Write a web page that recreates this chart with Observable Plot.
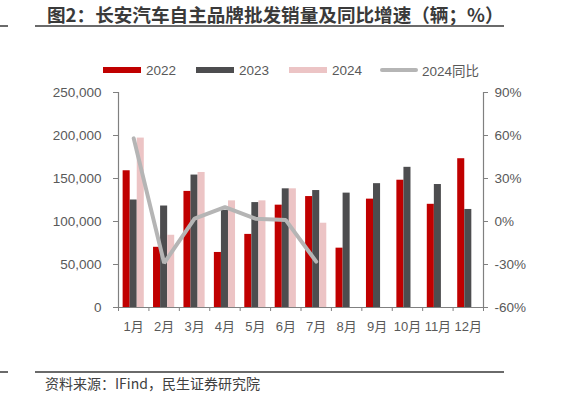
<!DOCTYPE html>
<html><head><meta charset="utf-8">
<script src="https://cdn.jsdelivr.net/npm/d3@7"></script>
<script src="https://cdn.jsdelivr.net/npm/@observablehq/plot@0.6"></script>
<style>
body{margin:0;background:#fff;}
#wrap{position:relative;width:562px;height:399px;overflow:hidden;font-family:"Liberation Sans","Noto Sans CJK SC",sans-serif;}
#title{position:absolute;left:47px;top:4px;font-weight:bold;font-size:18.6px;font-family:"Noto Sans CJK SC",sans-serif;color:#3a3a3a;white-space:nowrap;line-height:20px;}
.hr{position:absolute;height:2px;background:#6a6a6a;}
.lg{position:absolute;top:61px;height:18px;display:flex;align-items:center;font-size:13.5px;color:#595959;white-space:nowrap;font-family:"Liberation Sans","Noto Sans CJK SC",sans-serif;}
.sw{width:38px;height:6px;margin-right:5px;}
.swl{width:38px;height:4px;border-radius:2px;margin-right:4px;}
#cap{position:absolute;left:45px;top:373px;font-size:14px;color:#404040;font-family:"Noto Sans CJK SC",sans-serif;white-space:nowrap;}
#chart{position:absolute;left:0;top:0;}
</style>
</head><body>
<div id="wrap">
  <div id="chart"></div>
  <div id="title">图2：长安汽车自主品牌批发销量及同比增速（辆；%）</div>
  <div class="hr" style="left:0;width:8px;top:25px"></div>
  <div class="hr" style="left:35px;width:469px;top:25px"></div>
  <div id="legend"></div>
  <div class="hr" style="left:0;width:8px;top:371px"></div>
  <div class="hr" style="left:35px;width:469px;top:371px"></div>
  <div id="cap">资料来源：IFind，民生证券研究院</div>
</div>
<script>
const months = ["1月","2月","3月","4月","5月","6月","7月","8月","9月","10月","11月","12月"];
const seriesNames = ["2022","2023","2024"];
const lineName = "2024同比";
const sales2022 = [159000,70000,135000,64000,85000,119000,129000,69000,126000,148000,120000,173000];
const sales2023 = [125000,118000,154000,113000,122000,138000,136000,133000,144000,163000,143000,114000];
const sales2024 = [197000,84000,157000,124000,124000,138000,98000];
const yoy2024 = [58,-29,2,10,2,1,-28];
const leftTicks = [0,50000,100000,150000,200000,250000];
const rightTicks = [-60,-30,0,30,60,90];
const colors = ["#c00000","#4d4d4f","#ecc4c5"];
const lineColor = "#b5b5b5";

// right-axis (%) mapped onto left-axis range
const pMin = -60, pMax = 90, vMax = 250000;
const toLeft = p => (p - pMin) / (pMax - pMin) * vMax;
const fromLeft = v => v / vMax * (pMax - pMin) + pMin;

const allSeries = [sales2022, sales2023, sales2024];
const barW = 0.232, groupHalf = barW * 1.5;
const bars = [];
allSeries.forEach((arr, k) => arr.forEach((v, i) => bars.push({m: i + 1, k, v})));
const lineData = yoy2024.map((p, i) => ({m: i + 1, p}));
const boundaries = d3.range(0, 13).map(i => i + 0.5);

const axisColor = "#808080";
const chart = Plot.plot({
  width: 562, height: 399,
  marginTop: 92, marginBottom: 92, marginLeft: 118, marginRight: 79,
  style: {fontFamily: "Liberation Sans, Noto Sans CJK SC, sans-serif", fontSize: "13.5px", color: "#595959", background: "transparent", overflow: "visible"},
  x: {type: "linear", domain: [0.5, 12.5]},
  y: {domain: [0, vMax]},
  marks: [
    Plot.rectY(bars, {x1: d => d.m - groupHalf + d.k * barW, x2: d => d.m - groupHalf + (d.k + 1) * barW, y1: 0, y2: "v", fill: d => colors[d.k]}),
    Plot.line(lineData, {x: "m", y: d => toLeft(d.p), stroke: lineColor, strokeWidth: 4, strokeLinejoin: "miter", strokeLinecap: "round"}),
    Plot.ruleX([0.5], {stroke: axisColor, strokeWidth: 1.2}),
    Plot.ruleX([12.5], {stroke: axisColor, strokeWidth: 1.2}),
    Plot.ruleY([0], {stroke: axisColor, strokeWidth: 1.2}),
    Plot.axisY({anchor: "left", ticks: leftTicks, tickFormat: d3.format(","), tickSize: 5, tickPadding: 12, stroke: axisColor, label: null}),
    Plot.axisY({anchor: "right", ticks: rightTicks.map(toLeft), tickFormat: v => Math.round(fromLeft(v)) + "%", tickSize: 4, tickPadding: 7, stroke: axisColor, label: null}),
    Plot.axisX({ticks: boundaries, tickFormat: () => "", tickSize: 4, stroke: axisColor, label: null}),
    Plot.axisX({ticks: d3.range(1, 13), tickFormat: i => months[i - 1], tickSize: 0, tickPadding: 14, fontSize: 13, label: null})
  ]
});
document.getElementById("chart").appendChild(chart);

const legend = document.getElementById("legend");
const items = [
  {name: seriesNames[0], color: colors[0], left: 103, line: false},
  {name: seriesNames[1], color: colors[1], left: 196, line: false},
  {name: seriesNames[2], color: colors[2], left: 289, line: false},
  {name: lineName, color: lineColor, left: 380, line: true}
];
items.forEach(it => {
  const d = document.createElement("div");
  d.className = "lg";
  d.style.left = it.left + "px";
  const s = document.createElement("span");
  s.className = it.line ? "swl" : "sw";
  s.style.background = it.color;
  d.appendChild(s);
  const t = document.createElement("span");
  t.textContent = it.name;
  d.appendChild(t);
  legend.appendChild(d);
});
</script>
</body></html>
